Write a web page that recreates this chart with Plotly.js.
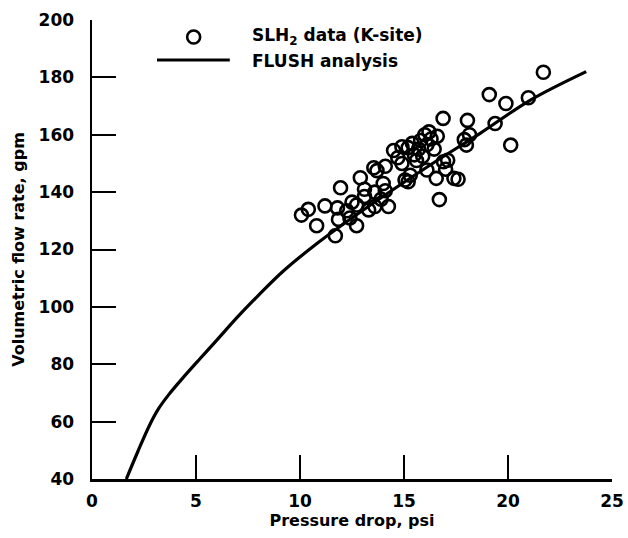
<!DOCTYPE html>
<html>
<head>
<meta charset="utf-8">
<script src="https://cdn.plot.ly/plotly-3.0.1.min.js"></script>
<style>html,body{margin:0;padding:0;background:#fff;}#chart{width:628px;height:538px;}</style>
</head>
<body>
<div id="chart"></div>
<script>
// FLUSH analysis curve
const curveX = [1.65, 2.2, 2.75, 3.2, 3.7, 4.4, 5.2, 6.0, 7.0, 8.0, 9.2, 10.8, 12.5, 14.5, 16.5, 18.66, 21.06, 23.76];
const curveY = [40, 49.5, 58.5, 64.5, 69.5, 75.5, 82.0, 88.4, 96.5, 104.0, 112.5, 122.0, 131.0, 141.0, 150.6, 160.5, 172.0, 182.0];

// SLH2 data (K-site)
const dataX = [10.07, 10.4, 10.8, 11.2, 11.7, 11.8, 11.85, 11.95, 12.25, 12.5, 12.72, 12.72, 12.9, 13.1, 13.1, 13.3,
  13.6, 13.6, 13.55, 13.7, 14.1, 14.1, 14.25, 14.0, 13.9, 12.4,
  14.5, 14.7, 14.9, 15.05, 15.3, 15.2, 15.4, 15.5, 15.7, 15.8, 15.9, 16.0, 16.1, 16.2, 16.3, 16.45, 16.6,
  16.1, 16.55, 16.7, 16.88, 16.9, 17.1, 17.0, 17.4, 17.6, 15.2, 14.9, 15.6,
  17.9, 18.0, 18.15, 18.05, 19.1, 19.38, 19.9, 20.13, 20.98, 21.7];
const dataY = [132.0, 134.0, 128.3, 135.2, 124.8, 134.5, 130.5, 141.5, 133.5, 136.5, 128.3, 135.5, 145.0, 138.5, 141.0, 133.8,
  140.0, 135.0, 148.5, 147.5, 149.0, 140.5, 135.0, 143.0, 137.5, 131.0,
  154.5, 152.0, 150.0, 144.2, 145.9, 155.5, 157.0, 153.0, 155.0, 158.0, 152.5, 160.0, 156.5, 161.0, 158.5, 155.0, 159.5,
  147.7, 144.8, 137.4, 165.7, 150.6, 151.1, 148.0, 144.8, 144.5, 143.6, 155.8, 151.0,
  158.3, 156.4, 160.0, 165.0, 174.0, 163.9, 170.9, 156.4, 172.9, 181.8];

const xTicks = [0, 5, 10, 15, 20, 25];
const yTicks = [40, 60, 80, 100, 120, 140, 160, 180, 200];

const legendLabels = ['SLH<sub>2</sub> data (K-site)', 'FLUSH analysis'];

const FONT = {family: 'DejaVu Sans, Arial, sans-serif', color: '#000', weight: 'bold'};

const traces = [
  {x: curveX, y: curveY, type: 'scatter', mode: 'lines', line: {color: '#000', width: 3.2, shape: 'spline', smoothing: 1}, hoverinfo: 'skip'},
  {x: dataX, y: dataY, type: 'scatter', mode: 'markers', marker: {symbol: 'circle-open', size: 13, color: '#000', line: {width: 2.6, color: '#000'}}}
];

const axisCommon = {
  showgrid: false, zeroline: false, showline: true, linecolor: '#000', linewidth: 2.5,
  ticks: 'inside', ticklen: 24, tickwidth: 2, tickcolor: '#000',
  tickfont: Object.assign({size: 17}, FONT), fixedrange: true
};

const layout = {
  width: 628, height: 538,
  margin: {l: 92, r: 16, t: 20, b: 59},
  paper_bgcolor: '#fff', plot_bgcolor: '#fff',
  showlegend: false,
  font: FONT,
  xaxis: Object.assign({}, axisCommon, {
    range: [0, 25], tickvals: xTicks, ticktext: xTicks.map(String),
    ticklabelstandoff: 5,
    title: {text: 'Pressure drop, psi', font: Object.assign({size: 16}, FONT), standoff: 4}
  }),
  yaxis: Object.assign({}, axisCommon, {
    range: [40, 200], tickvals: yTicks, ticktext: yTicks.map(String),
    ticklabelstandoff: 12,
    title: {text: 'Volumetric flow rate, gpm', font: Object.assign({size: 16}, FONT), standoff: 10}
  }),
  shapes: [
    {type: 'circle', xref: 'paper', yref: 'paper', xsizemode: 'pixel', ysizemode: 'pixel',
     xanchor: 0.1955, yanchor: 0.963, x0: -6.5, x1: 6.5, y0: -6.5, y1: 6.5,
     line: {color: '#000', width: 2.6}},
    {type: 'line', xref: 'paper', yref: 'paper', x0: 0.125, x1: 0.265, y0: 0.9129, y1: 0.9129,
     line: {color: '#000', width: 3.2}}
  ],
  annotations: [
    {text: legendLabels[0], xref: 'paper', yref: 'paper', x: 0.3038, y: 0.963, xanchor: 'left', yanchor: 'middle',
     showarrow: false, font: Object.assign({size: 17}, FONT)},
    {text: legendLabels[1], xref: 'paper', yref: 'paper', x: 0.3038, y: 0.9107, xanchor: 'left', yanchor: 'middle',
     showarrow: false, font: Object.assign({size: 17}, FONT)}
  ]
};

Plotly.newPlot('chart', traces, layout, {displayModeBar: false, staticPlot: true});
</script>
</body>
</html>
